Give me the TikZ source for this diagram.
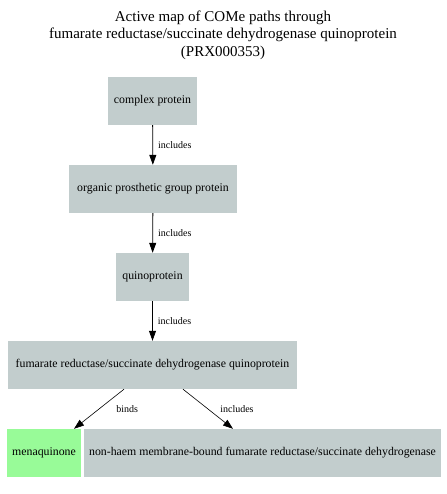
\documentclass[tikz,border=0pt]{standalone}
\usepackage{fontspec}
\setmainfont{Liberation Serif}
\usetikzlibrary{arrows.meta}
\definecolor{nodegray}{RGB}{194,205,205}
\definecolor{nodegreen}{RGB}{152,251,152}
\tikzset{
  box/.style={draw=none, fill=nodegray, inner sep=0pt, font=\fontsize{11.8}{13}\selectfont},
  gbox/.style={box, fill=nodegreen},
  conn/.style={draw=black, line width=0.8pt, -{Triangle[length=10pt,width=7pt]}},
  elabel/.style={font=\fontsize{10}{11}\selectfont, inner sep=0pt},
  titletext/.style={font=\fontsize{15}{17.5}\selectfont, align=center, inner sep=0pt}
}
\begin{document}
\begin{tikzpicture}[x=1pt,y=-1pt]
\path[use as bounding box, fill=white] (0,0) rectangle (446,494);
\node[titletext] (title) at (223,35) {Active map of COMe paths through\\fumarate reductase/succinate dehydrogenase quinoprotein\\(PRX000353)};
\node[box, minimum width=89pt, minimum height=48pt] (n1) at (152.5,101) {complex protein};
\node[box, minimum width=168pt, minimum height=48pt] (n2) at (153,189) {organic prosthetic group protein};
\node[box, minimum width=73pt, minimum height=48pt] (n3) at (152.5,277) {quinoprotein};
\node[box, minimum width=289pt, minimum height=48pt] (n4) at (152.5,365) {fumarate reductase/succinate dehydrogenase quinoprotein};
\node[gbox, minimum width=74pt, minimum height=48pt] (n5) at (44,453) {menaquinone};
\node[box, minimum width=357pt, minimum height=48pt] (n6) at (262.5,453) {non-haem membrane-bound fumarate reductase/succinate dehydrogenase};
\draw[conn] (n1) -- node[elabel, anchor=west, xshift=5pt] {includes} (n2);
\draw[conn] (n2) -- node[elabel, anchor=west, xshift=5pt] {includes} (n3);
\draw[conn] (n3) -- node[elabel, anchor=west, xshift=5pt] {includes} (n4);
\draw[conn, line width=0.6pt] ([xshift=-28.5pt]n4.south) -- node[elabel, anchor=west, xshift=17pt] {binds} ([xshift=30pt]n5.north);
\draw[conn, line width=0.6pt] ([xshift=30.5pt]n4.south) -- node[elabel, anchor=west, xshift=12pt] {includes} ([xshift=-29.5pt]n6.north);
\end{tikzpicture}
\end{document}
